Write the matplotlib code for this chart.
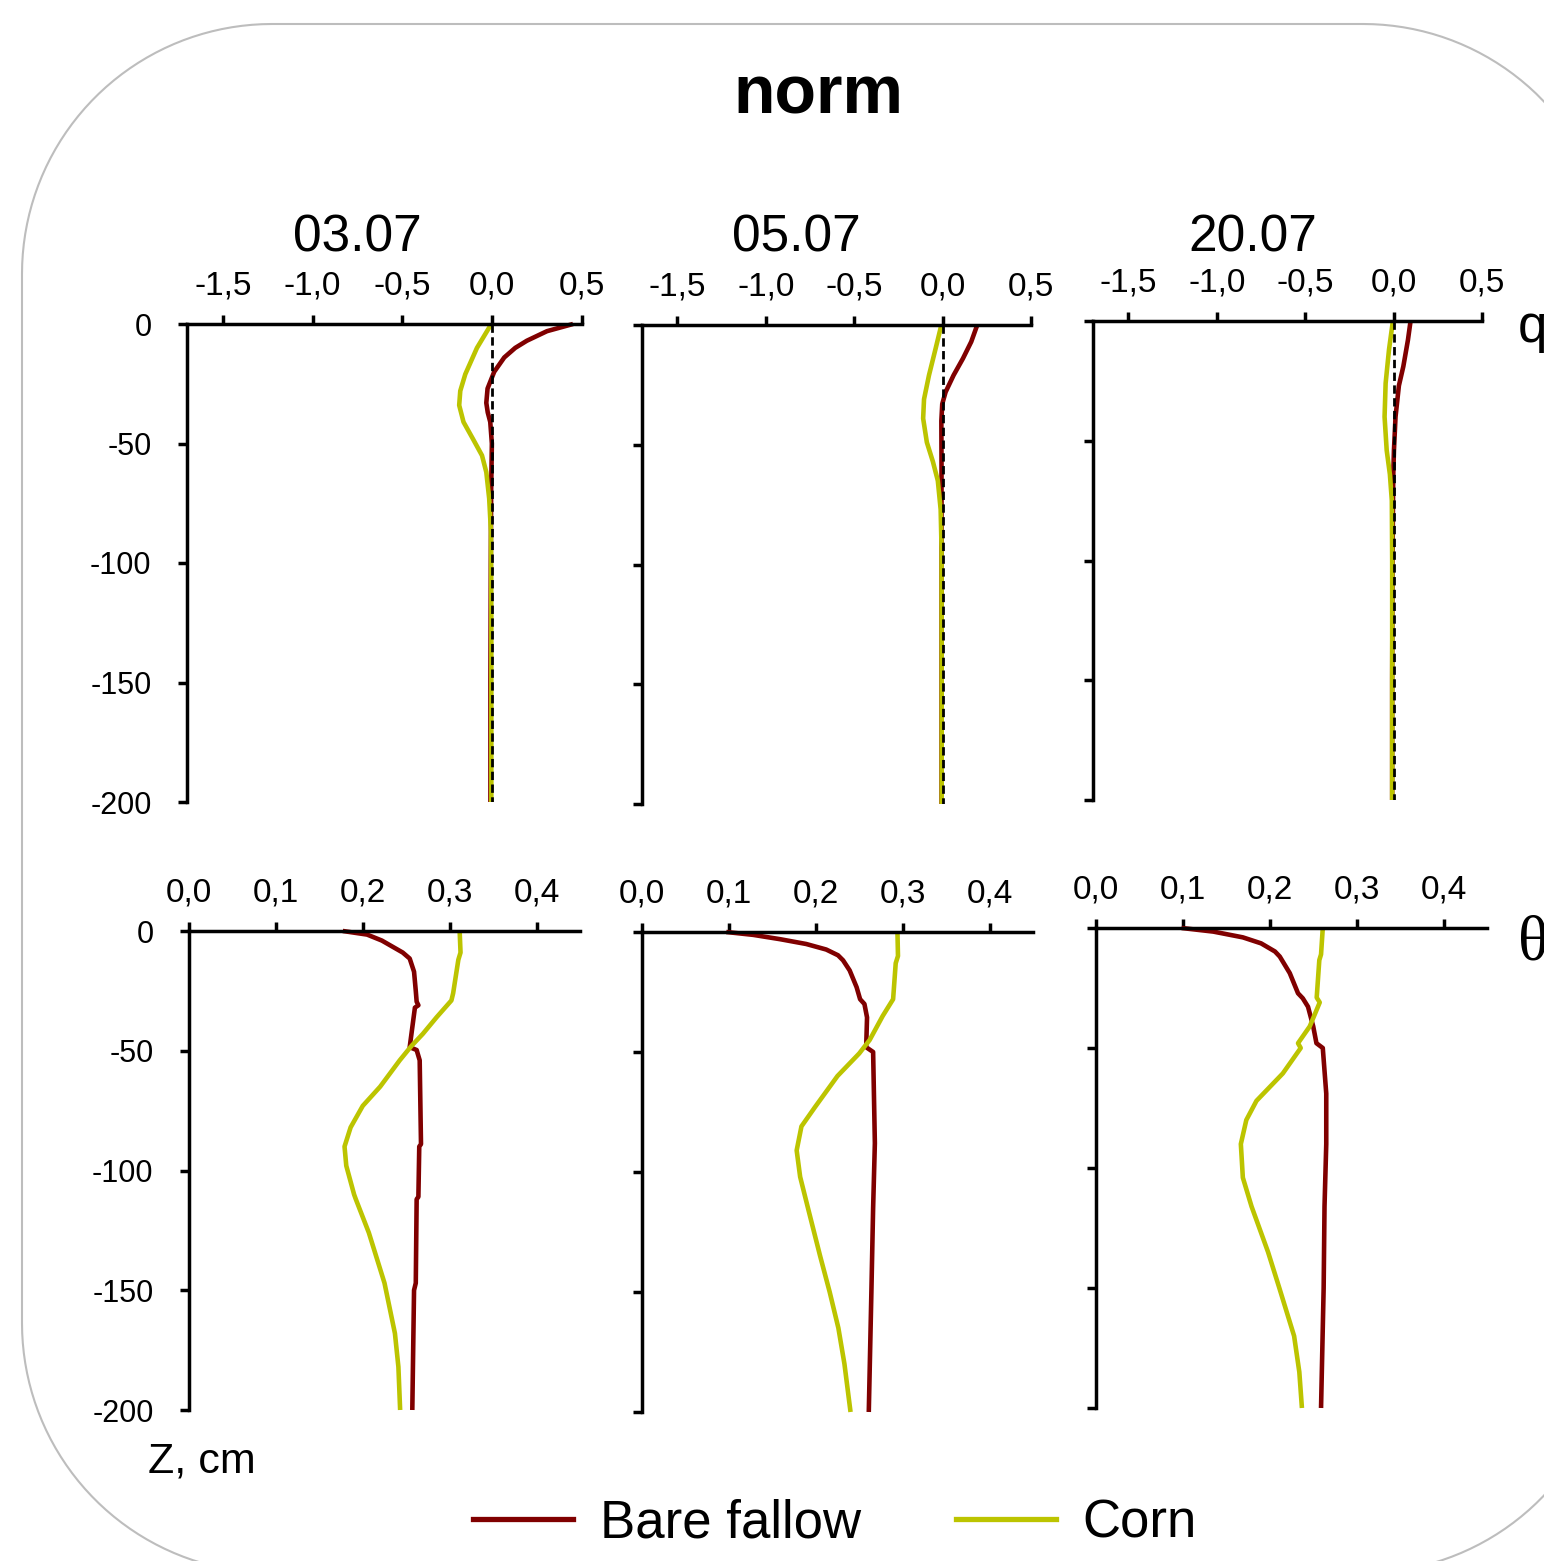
import numpy as np
import matplotlib.pyplot as plt
from matplotlib.patches import PathPatch
from matplotlib.path import Path
from matplotlib.lines import Line2D
from matplotlib.ticker import FuncFormatter

plt.rcParams['font.family'] = ['Liberation Sans', 'DejaVu Sans']

W, H = 1544, 1561

dates = ["03.07", "05.07", "20.07"]
series_names = ["Bare fallow", "Corn"]
colors = ["#800000", "#BCC400"]

# --- water flux q (top row), depth z in cm ---
q0307_bare_z = [0, -3, -7, -10, -14, -20, -27, -33, -37, -41, -50, -70, -100, -150, -200]
q0307_bare = [0.45, 0.305, 0.193, 0.128, 0.067, 0.011, -0.026, -0.033, -0.025, -0.011, -0.002, -0.006, -0.008, -0.01, -0.01]
q0307_corn_z = [0, -10, -21, -28, -34, -41, -48, -55, -62, -73, -87, -120, -160, -200]
q0307_corn = [-0.005, -0.085, -0.15, -0.178, -0.184, -0.16, -0.108, -0.057, -0.033, -0.017, -0.007, -0.005, -0.005, -0.005]

q0507_bare_z = [0, -7, -14, -21, -28, -33, -40, -60, -100, -150, -200]
q0507_bare = [0.196, 0.162, 0.115, 0.062, 0.017, -0.002, -0.007, -0.006, -0.006, -0.006, -0.006]
q0507_corn_z = [0, -10, -21, -31, -39, -49, -57, -65, -77, -93, -150, -200]
q0507_corn = [-0.007, -0.04, -0.077, -0.105, -0.11, -0.089, -0.055, -0.027, -0.011, -0.006, -0.005, -0.005]

q2007_bare_z = [0, -8, -19, -27, -40, -54, -65, -100, -150, -200]
q2007_bare = [0.096, 0.081, 0.055, 0.03, 0.011, 0.002, -0.002, -0.006, -0.008, -0.008]
q2007_corn_z = [0, -12, -26, -40, -54, -64, -75, -100, -150, -200]
q2007_corn = [-0.004, -0.026, -0.045, -0.051, -0.039, -0.021, -0.01, -0.008, -0.008, -0.008]

# --- soil moisture theta (bottom row) ---
th0307_bare_z = [0, -1.5, -4, -6.5, -9, -11.5, -17, -25, -29.5, -31, -32, -43, -48.5, -49.7, -54, -89, -90, -111, -112, -147, -150, -200]
th0307_bare = [0.177, 0.205, 0.222, 0.234, 0.246, 0.254, 0.259, 0.261, 0.262, 0.264, 0.26, 0.256, 0.254, 0.262, 0.2655, 0.267, 0.265, 0.264, 0.262, 0.261, 0.259, 0.257]
th0307_corn_z = [0, -9, -12, -26, -29, -36, -43, -48, -54, -65, -73, -82, -90, -98, -110, -112, -126, -147, -168, -182, -200]
th0307_corn = [0.3115, 0.3125, 0.31, 0.304, 0.302, 0.285, 0.269, 0.256, 0.2425, 0.22, 0.2, 0.186, 0.179, 0.181, 0.19, 0.192, 0.207, 0.225, 0.237, 0.241, 0.243]

th0507_bare_z = [0, -1.2, -3, -5, -7.3, -9.7, -11.8, -16, -23, -28, -30, -35.6, -48, -50, -88, -115, -150, -200]
th0507_bare = [0.097, 0.128, 0.159, 0.189, 0.212, 0.2256, 0.2314, 0.239, 0.247, 0.251, 0.256, 0.259, 0.258, 0.266, 0.268, 0.266, 0.264, 0.261]
th0507_corn_z = [0, -10, -13, -28, -35, -45, -50.6, -60, -73, -81, -91, -102, -115, -135, -150, -165, -180, -200]
th0507_corn = [0.294, 0.2946, 0.292, 0.289, 0.277, 0.262, 0.25, 0.225, 0.199, 0.1835, 0.178, 0.182, 0.191, 0.205, 0.216, 0.226, 0.233, 0.24]

th2007_bare_z = [0, -1.5, -3.9, -6.4, -9.8, -11.9, -18.8, -27.2, -29.3, -32.8, -41, -48, -50, -69, -90, -116, -150, -200]
th2007_bare = [0.0985, 0.135, 0.169, 0.19, 0.206, 0.2115, 0.223, 0.2325, 0.238, 0.244, 0.25, 0.2537, 0.261, 0.265, 0.265, 0.263, 0.262, 0.259]
th2007_corn_z = [0, -11, -13.4, -29, -31, -41, -48, -50, -60.6, -72, -80, -90, -104, -116, -135, -150, -170, -185, -200]
th2007_corn = [0.261, 0.259, 0.257, 0.254, 0.2575, 0.246, 0.2325, 0.2356, 0.215, 0.1847, 0.173, 0.1667, 0.169, 0.179, 0.198, 0.211, 0.228, 0.234, 0.237]

q_data = [
    [(q0307_bare, q0307_bare_z), (q0307_corn, q0307_corn_z)],
    [(q0507_bare, q0507_bare_z), (q0507_corn, q0507_corn_z)],
    [(q2007_bare, q2007_bare_z), (q2007_corn, q2007_corn_z)],
]
th_data = [
    [(th0307_bare, th0307_bare_z), (th0307_corn, th0307_corn_z)],
    [(th0507_bare, th0507_bare_z), (th0507_corn, th0507_corn_z)],
    [(th2007_bare, th2007_bare_z), (th2007_corn, th2007_corn_z)],
]

q_ticks = [-1.5, -1.0, -0.5, 0.0, 0.5]
th_ticks = [0.0, 0.1, 0.2, 0.3, 0.4]
z_ticks = [0, -50, -100, -150, -200]

# panel boxes in pixels (left, top, right, bottom)
top_boxes = [(187, 324, 582, 802), (642, 325, 1031, 804), (1093, 321, 1482, 800)]
bot_boxes = [(189, 931, 580, 1410), (642, 932, 1033, 1412), (1096, 928, 1487, 1408)]
title_x = [357, 796, 1253]

fig = plt.figure(figsize=(W / 100, H / 100), dpi=100)


def px(x, y):
    return x / W, 1 - y / H


# rounded frame (circular corners), partly outside the figure
fl, ft, fr, fb, R = 22, 24, 1613, 1573, 250
corners = [(fr - R, ft + R, 90, 0), (fr - R, fb - R, 0, -90),
           (fl + R, fb - R, -90, -180), (fl + R, ft + R, 180, 90)]
verts = []
for cx, cy, a0, a1 in corners:
    a = np.radians(np.linspace(a0, a1, 40))
    verts += [px(cx + R * np.cos(t), cy - R * np.sin(t)) for t in a]
verts.append(verts[0])
frame = PathPatch(Path(verts), transform=fig.transFigure, fc="none", ec="#BDBDBD", lw=1.5)
fig.add_artist(frame)

comma = FuncFormatter(lambda v, p: f"{v:.1f}".replace(".", ","))
intfmt = FuncFormatter(lambda v, p: f"{int(round(v))}")


def add_ax(box):
    l, t, r, b = box
    return fig.add_axes([l / W, 1 - b / H, (r - l) / W, (b - t) / H])


def style(ax, xlim, xticks, first):
    ax.set_xlim(*xlim)
    ax.set_ylim(-200, 0)
    ax.xaxis.tick_top()
    ax.set_xticks(xticks)
    ax.set_yticks(z_ticks)
    ax.xaxis.set_major_formatter(comma)
    ax.yaxis.set_major_formatter(intfmt)
    for s in ["bottom", "right"]:
        ax.spines[s].set_visible(False)
    for s in ["top", "left"]:
        ax.spines[s].set_linewidth(2.5)
    ax.tick_params(axis="x", direction="out", length=6.5, width=2.5, pad=9.5, labelsize=24)
    ax.tick_params(axis="y", direction="out", length=6.5, width=2.5, pad=19, labelsize=22,
                   labelleft=first)
    ax.patch.set_alpha(0)


for i in range(3):
    ax = add_ax(top_boxes[i])
    style(ax, (-1.7, 0.5), q_ticks, i == 0)
    ax.plot([0, 0], [0, -200], color="black", lw=2.0, ls=(0, (3.0, 1.6)), zorder=3)
    for (vals, z), c in zip(q_data[i], colors):
        ax.plot(vals, z, color=c, lw=3.3, clip_on=False, zorder=2,
                solid_joinstyle="round", solid_capstyle="butt")
    fig.text(*px(title_x[i], 252), dates[i], ha="center", va="baseline", fontsize=37)

    ax = add_ax(bot_boxes[i])
    style(ax, (0, 0.45), th_ticks, i == 0)
    for (vals, z), c in zip(th_data[i], colors):
        ax.plot(vals, z, color=c, lw=3.3, clip_on=False, zorder=2,
                solid_joinstyle="round", solid_capstyle="butt")

fig.text(*px(818, 114), "norm", ha="center", va="baseline", fontsize=49, fontweight="bold")
fig.text(*px(1518, 342), "q", ha="left", va="baseline", fontsize=38)
fig.text(*px(1518, 960), "θ", ha="left", va="baseline", fontsize=46,
         family=["Liberation Serif", "DejaVu Serif"])
fig.text(*px(148, 1473), "Z, cm", ha="left", va="baseline", fontsize=31)

handles = [Line2D([], [], color=c, lw=3.8) for c in colors]
fig.legend(handles, series_names, loc="center", bbox_to_anchor=px(835, 1523),
           ncol=2, frameon=False, fontsize=38, handlelength=1.9, handletextpad=0.5,
           columnspacing=1.8)

fig.savefig("out.png", dpi=100)
